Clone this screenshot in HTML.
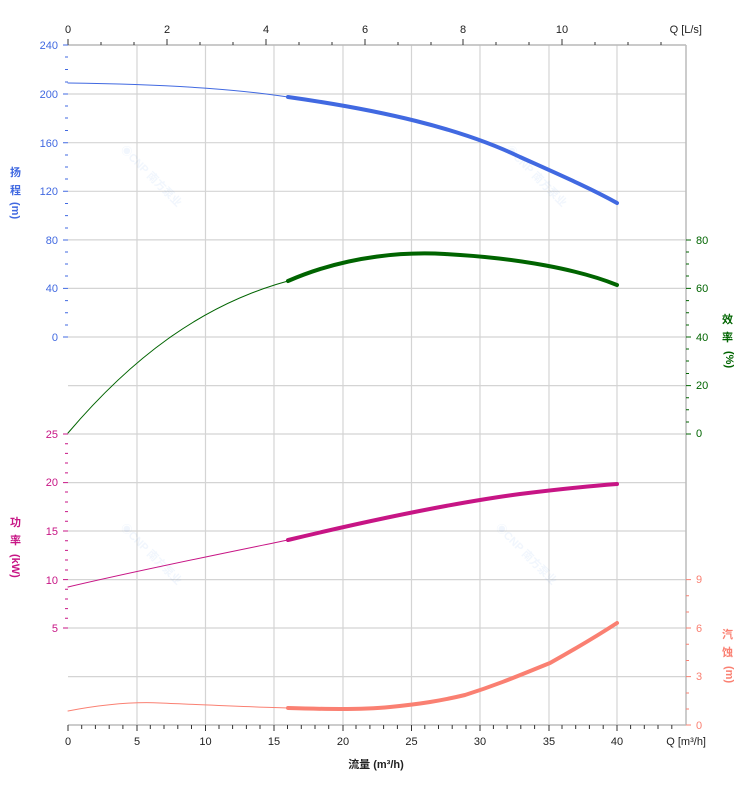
<!DOCTYPE html>
<html><head><meta charset="utf-8"><style>
body{margin:0;background:#fff}
svg text{font-family:"Liberation Sans","Noto Sans CJK SC",sans-serif;font-size:11px}
</style></head><body>
<svg width="752" height="797" xmlns="http://www.w3.org/2000/svg">
<g stroke="#d4d4d4" stroke-width="1.2">
<line x1="68" y1="45" x2="686" y2="45"/><line x1="68" y1="94" x2="686" y2="94"/><line x1="68" y1="142.7" x2="686" y2="142.7"/><line x1="68" y1="191.3" x2="686" y2="191.3"/><line x1="68" y1="239.9" x2="686" y2="239.9"/><line x1="68" y1="288.4" x2="686" y2="288.4"/><line x1="68" y1="337" x2="686" y2="337"/><line x1="68" y1="385.6" x2="686" y2="385.6"/><line x1="68" y1="434" x2="686" y2="434"/><line x1="68" y1="482.6" x2="686" y2="482.6"/><line x1="68" y1="531" x2="686" y2="531"/><line x1="68" y1="579.6" x2="686" y2="579.6"/><line x1="68" y1="628" x2="686" y2="628"/><line x1="68" y1="676.6" x2="686" y2="676.6"/>
<line x1="137" y1="45" x2="137" y2="725"/><line x1="205.5" y1="45" x2="205.5" y2="725"/><line x1="274" y1="45" x2="274" y2="725"/><line x1="343" y1="45" x2="343" y2="725"/><line x1="411.5" y1="45" x2="411.5" y2="725"/><line x1="480" y1="45" x2="480" y2="725"/><line x1="549" y1="45" x2="549" y2="725"/><line x1="617" y1="45" x2="617" y2="725"/>
</g>
<g stroke="#bbb" stroke-width="1.5"><line x1="68" y1="45" x2="686" y2="45"/><line x1="68" y1="725" x2="686" y2="725"/><line x1="686" y1="45" x2="686" y2="725"/></g>
<g stroke="#333" stroke-width="1">
<path d="M68 39V45M101 42V45M134 42V45M167 39V45M200 42V45M233 42V45M266 39V45M299 42V45M332 42V45M365 39V45M398 42V45M431 42V45M463 39V45M496 42V45M529 42V45M562 39V45M595 42V45M628 42V45M661 42V45"/>
<path d="M68 725V731M81.7 725V729M95.4 725V729M109.2 725V729M122.9 725V729M137 725V731M150.3 725V729M164 725V729M177.8 725V729M191.5 725V729M205.5 725V731M219 725V729M232.6 725V729M246.4 725V729M260 725V729M274 725V731M287.5 725V729M301.3 725V729M315 725V729M328.7 725V729M343 725V731M356 725V729M369.9 725V729M383.6 725V729M397.4 725V729M411.5 725V731M424.8 725V729M438.5 725V729M452.2 725V729M466 725V729M480 725V731M493.4 725V729M507.1 725V729M520.8 725V729M534.6 725V729M549 725V731M562 725V729M575.7 725V729M589.4 725V729M603.2 725V729M617 725V731M630.6 725V729M644.3 725V729M658 725V729M671.8 725V729"/>
</g>
<g fill="#222"><text x="68" y="33" text-anchor="middle">0</text><text x="167" y="33" text-anchor="middle">2</text><text x="266" y="33" text-anchor="middle">4</text><text x="365" y="33" text-anchor="middle">6</text><text x="463" y="33" text-anchor="middle">8</text><text x="562" y="33" text-anchor="middle">10</text><text x="702" y="33" text-anchor="end">Q [L/s]</text>
<text x="68" y="745" text-anchor="middle">0</text><text x="137" y="745" text-anchor="middle">5</text><text x="205.5" y="745" text-anchor="middle">10</text><text x="274" y="745" text-anchor="middle">15</text><text x="343" y="745" text-anchor="middle">20</text><text x="411.5" y="745" text-anchor="middle">25</text><text x="480" y="745" text-anchor="middle">30</text><text x="549" y="745" text-anchor="middle">35</text><text x="617" y="745" text-anchor="middle">40</text><text x="706" y="745" text-anchor="end" font-size="10">Q [m³/h]</text>
<text x="376" y="768" text-anchor="middle" font-weight="bold" font-size="13">流量 (m³/h)</text></g>
<g fill="#4169e1" font-weight="bold"><g text-anchor="end" font-weight="normal"><text x="58" y="49">240</text><text x="58" y="98">200</text><text x="58" y="147">160</text><text x="58" y="195">120</text><text x="58" y="244">80</text><text x="58" y="292">40</text><text x="58" y="341">0</text></g>
<text x="10" y="176" font-size="14">扬</text><text x="10" y="194" font-size="14">程</text><text transform="translate(12,202) rotate(90)" font-size="13">(m)</text></g>
<path stroke="#4169e1" d="M63 45H68M65 57H68M65 69.5H68M65 82H68M63 94H68M65 106H68M65 118H68M65 130.5H68M63 142.7H68M65 155H68M65 167H68M65 179H68M63 191.3H68M65 203.5H68M65 215.6H68M65 228H68M63 240H68M65 252H68M65 264H68M65 276H68M63 288.4H68M65 300.6H68M65 312.8H68M65 325H68M63 337H68"/>
<g fill="#c71585" font-weight="bold"><g text-anchor="end" font-weight="normal"><text x="58" y="438">25</text><text x="58" y="486">20</text><text x="58" y="535">15</text><text x="58" y="584">10</text><text x="58" y="632">5</text></g>
<text x="10" y="526" font-size="14">功</text><text x="10" y="544" font-size="14">率</text><text transform="translate(12,554) rotate(90)" font-size="13">(kW)</text></g>
<path stroke="#c71585" d="M63 434H68M65 443.7H68M65 453.4H68M65 463H68M65 472.9H68M63 482.6H68M65 492H68M65 502H68M65 511.6H68M65 521.3H68M63 531H68M65 540.7H68M65 550.4H68M65 560H68M65 570H68M63 579.6H68M65 589.3H68M65 599H68M65 608.6H68M65 618.3H68M63 628H68"/>
<g fill="#006400" font-weight="bold"><g font-weight="normal"><text x="696" y="244">80</text><text x="696" y="292">60</text><text x="696" y="341">40</text><text x="696" y="389">20</text><text x="696" y="437">0</text></g>
<text x="722" y="323" font-size="14">效</text><text x="722" y="341" font-size="14">率</text><text transform="translate(726,351) rotate(90)" font-size="13">(%)</text></g>
<path stroke="#006400" d="M686 240H691M686 252H689M686 264H689M686 276H689M686 288.4H691M686 300.6H689M686 312.8H689M686 325H689M686 337H691M686 349H689M686 361H689M686 373.5H689M686 385.6H691M686 397.7H689M686 409.8H689M686 422H689M686 434H691"/>
<g fill="#fa8072" font-weight="bold"><g font-weight="normal"><text x="696" y="583">9</text><text x="696" y="632">6</text><text x="696" y="680">3</text><text x="696" y="729">0</text></g>
<text x="722" y="638" font-size="14">汽</text><text x="722" y="656" font-size="14">蚀</text><text transform="translate(726,666) rotate(90)" font-size="13">(m)</text></g>
<path stroke="#fa8072" d="M686 579.6H691M686 595.8H689M686 612H689M686 628H691M686 644.3H689M686 660.5H689M686 676.6H691M686 693H689M686 709H689M686 725H691"/>
<g fill="#4a90e2" opacity="0.08" font-weight="bold" font-size="20"><text transform="translate(120,150) rotate(45)">◉CNP 南方泵业</text><text transform="translate(505,150) rotate(45)">◉CNP 南方泵业</text><text transform="translate(120,528) rotate(45)">◉CNP 南方泵业</text><text transform="translate(495,528) rotate(45)">◉CNP 南方泵业</text></g>
<g fill="none" stroke-linecap="round">
<path d="M68 83C150 84 230 88 288 97" stroke="#4169e1" stroke-width="1"/>
<path d="M288 97C380 110 460 128 520 157C560 175 590 188 617 203" stroke="#4169e1" stroke-width="4"/>
<path d="M68 433C130 360 200 305 288 281" stroke="#006400" stroke-width="1"/>
<path d="M288 281C350 254 410 252 445 254C520 258 580 270 617 285" stroke="#006400" stroke-width="4"/>
<path d="M68 587C140 570 220 554 288 540" stroke="#c71585" stroke-width="1"/>
<path d="M288 540C380 518 460 502 520 494C560 489 590 486 617 484" stroke="#c71585" stroke-width="4"/>
<path d="M68 711C110 703 140 702 160 703C210 705 250 707 288 708" stroke="#fa8072" stroke-width="1"/>
<path d="M288 708C320 709 360 710 390 707C420 704 440 701 465 695C500 684 525 673 550 663C575 649 597 636 617 623" stroke="#fa8072" stroke-width="4"/>
</g>
</svg>
</body></html>
